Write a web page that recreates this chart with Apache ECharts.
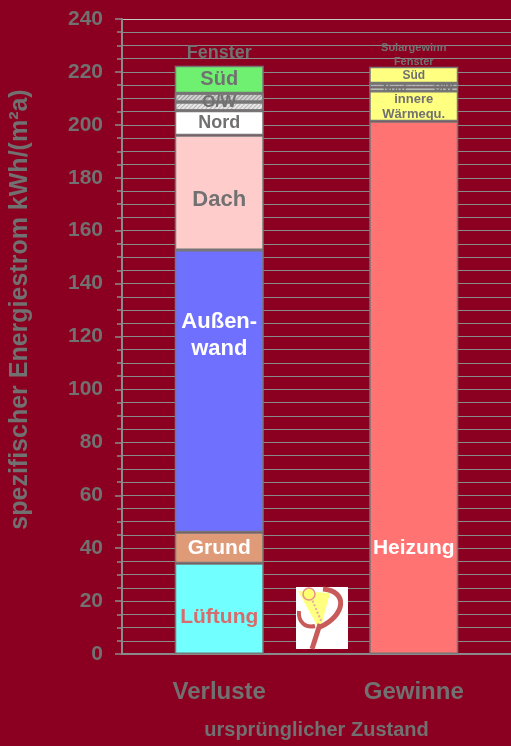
<!DOCTYPE html>
<html>
<head>
<meta charset="utf-8">
<script src="https://cdn.jsdelivr.net/npm/echarts@6/dist/echarts.min.js"></script>
<style>
  html, body { margin: 0; padding: 0; background: #8B0020; }
</style>
</head>
<body>
<div id="main" style="width:511px;height:746px;"></div>
<script>
const categories = ['Verluste', 'Gewinne'];

// Verluste (von unten nach oben)
const lossNames = ['Lüftung', 'Grund', 'Außenwand', 'Dach', 'Nord', 'Ost', 'West', 'Süd'];
const lossValues = [34.3, 11.7, 106.7, 43.4, 9.2, 3.3, 3.3, 10.4];

// Gewinne (von unten nach oben)
const gainNames = ['Heizung', 'innere Wärmequ.', 'Nord', 'O/W', 'Süd'];
const gainValues = [201.4, 11.4, 1.4, 1.5, 6.3];

const gray = '#717171';
const font = 'Liberation Sans, Arial, sans-serif';

const hatch = (c) => ({
  symbol: 'rect',
  dashArrayX: [1, 0],
  dashArrayY: [1, 2],
  rotation: -Math.PI / 4,
  color: c
});

// Farben und Beschriftungen je Segment
const lossStyles = [
  { color: '#72FFFF', label: { formatter: 'Lüftung', color: '#D86C6C', fontSize: 21, offset: [0, 9] } },
  { color: '#DF9A78', label: { formatter: 'Grund', color: '#fff', fontSize: 21 } },
  { color: '#7070FF', label: { formatter: 'Außen-\nwand', color: '#fff', fontSize: 22, lineHeight: 27, position: 'insideTop', distance: 58 } },
  { color: '#FFCCCC', label: { formatter: 'Dach', color: gray, fontSize: 22, offset: [0, 7] } },
  { color: '#FFFFFF', label: { formatter: 'Nord', color: gray, fontSize: 18 } },
  { color: '#E8E8E8', decal: hatch('rgba(150,150,150,0.6)'), label: { formatter: 'O/W', color: gray, fontSize: 17, offset: [0, -4] } },
  { color: '#D0D0D0', decal: hatch('rgba(130,130,130,0.7)'), label: null },
  { color: '#70F070', label: { formatter: 'Süd', color: gray, fontSize: 20 } }
];

const gainStyles = [
  { color: '#FF7373', label: { formatter: 'Heizung', color: '#fff', fontSize: 21, position: 'insideBottom', distance: 95 } },
  { color: '#FFFF80', label: { formatter: 'innere\nWärmequ.', color: gray, fontSize: 13, lineHeight: 15, offset: [0, 1] } },
  { color: '#FFFFF4', label: { formatter: 'Nord', color: gray, fontSize: 10, offset: [-19, 0] } },
  { color: '#EEEEEE', decal: hatch('rgba(150,150,150,0.5)'), label: { formatter: 'O/W', color: gray, fontSize: 10, offset: [30, 3] } },
  { color: '#FFFF80', label: { formatter: 'Süd', color: gray, fontSize: 12, offset: [0, 1] } }
];

const makeSeries = (name, value, style, catIndex) => {
  const data = categories.map((c, i) => (i === catIndex ? value : '-'));
  const label = style.label
    ? Object.assign({ show: true, position: 'inside', fontWeight: 'bold', fontFamily: font }, style.label)
    : { show: false };
  const itemStyle = {
    color: style.color,
    borderColor: '#777',
    borderWidth: 1.5
  };
  if (style.decal) itemStyle.decal = style.decal;
  return {
    name: name,
    type: 'bar',
    stack: 'total',
    barWidth: 89,
    data: data,
    itemStyle: itemStyle,
    label: label,
    emphasis: { disabled: true }
  };
};

const series = []
  .concat(lossNames.map((n, i) => makeSeries(n, lossValues[i], lossStyles[i], 0)))
  .concat(gainNames.map((n, i) => makeSeries(n, gainValues[i], gainStyles[i], 1)));

var myChart = echarts.init(document.getElementById('main'));

var option = {
  backgroundColor: '#8B0020',
  animation: false,
  grid: { left: 122, top: 19, bottom: 92, width: 392 },
  xAxis: {
    type: 'category',
    data: categories,
    name: 'ursprünglicher Zustand',
    nameLocation: 'middle',
    nameGap: 66,
    nameTextStyle: { color: gray, fontSize: 20, fontWeight: 'bold', fontFamily: font },
    axisLine: { lineStyle: { color: '#8a8a8a', width: 2 } },
    axisTick: { length: 8, lineStyle: { color: '#8a8a8a', width: 2 } },
    axisLabel: { color: gray, fontSize: 24, fontWeight: 'bold', fontFamily: font, margin: 26 }
  },
  yAxis: {
    type: 'value',
    min: 0,
    max: 240,
    interval: 20,
    name: 'spezifischer Energiestrom kWh/(m²a)',
    nameLocation: 'middle',
    nameGap: 89,
    nameTextStyle: { color: gray, fontSize: 25, fontWeight: 'bold', fontFamily: font, padding: [0, 0, 0, 54] },
    axisLine: { show: true, lineStyle: { color: '#8a8a8a', width: 2 } },
    axisTick: { show: true, length: 7, lineStyle: { color: '#8a8a8a', width: 1.5 } },
    minorTick: { show: true, splitNumber: 4, length: 5, lineStyle: { color: '#8a8a8a', width: 1.5 } },
    splitLine: {
      show: true,
      lineStyle: {
        color: ['#8a8a8a', '#8a8a8a', '#8a8a8a', '#8a8a8a', '#8a8a8a', '#8a8a8a', '#8a8a8a',
                '#8a8a8a', '#8a8a8a', '#8a8a8a', '#8a8a8a', '#8a8a8a', '#c8c8c8'],
        width: 1
      }
    },
    minorSplitLine: { show: true, lineStyle: { color: '#8a8a8a', width: 1 } },
    axisLabel: { color: gray, fontSize: 21, fontWeight: 'bold', fontFamily: font, margin: 19 }
  },
  series: series
};

myChart.setOption(option);

// Überschriften über den Säulen und Logo
const lossTop = lossValues.reduce((a, b) => a + b, 0);
const gainTop = gainValues.reduce((a, b) => a + b, 0);
const pL = myChart.convertToPixel({ gridIndex: 0 }, ['Verluste', lossTop]);
const pG = myChart.convertToPixel({ gridIndex: 0 }, ['Gewinne', gainTop]);

const red = '#C85A5A';

myChart.setOption({
  graphic: [
    {
      type: 'text', x: pL[0], y: pL[1] - 13,
      style: { text: 'Fenster', fill: gray, font: 'bold 18px ' + font, align: 'center', verticalAlign: 'middle' }
    },
    {
      type: 'text', x: pG[0], y: pG[1] - 12,
      style: { text: 'Solargewinn\nFenster', fill: gray, font: 'bold 11px ' + font, lineHeight: 14, align: 'center', verticalAlign: 'middle' }
    },
    {
      type: 'group', x: 296, y: 587,
      children: [
        { type: 'rect', shape: { x: 0, y: 0, width: 52, height: 62 }, style: { fill: '#fff' } },
        { type: 'polygon', shape: { points: [[2, 4], [34, 6], [26, 36], [22, 40]] }, style: { fill: '#FFFF80' } },
        { type: 'bezierCurve', shape: { x1: 27, y1: 2, cpx1: 52, cpy1: 4, cpx2: 50, cpy2: 28, x2: 24, y2: 40 }, style: { fill: 'none', stroke: red, lineWidth: 5 } },
        { type: 'line', shape: { x1: 24, y1: 37, x2: 16, y2: 62 }, style: { stroke: red, lineWidth: 5 } },
        { type: 'bezierCurve', shape: { x1: 3, y1: 24, cpx1: 2, cpy1: 36, cpx2: 10, cpy2: 41, x2: 19, y2: 39 }, style: { fill: 'none', stroke: red, lineWidth: 4 } },
        { type: 'line', shape: { x1: 15, y1: 10, x2: 26, y2: 36 }, style: { stroke: '#E8A8A8', lineWidth: 2, lineDash: [2, 2] } },
        { type: 'circle', shape: { cx: 13, cy: 7, r: 6 }, style: { fill: '#FFFF70', stroke: '#E89090', lineWidth: 1.5 } }
      ]
    }
  ]
});

window.addEventListener('resize', () => {
  myChart.resize()
})
</script>
</body>
</html>
